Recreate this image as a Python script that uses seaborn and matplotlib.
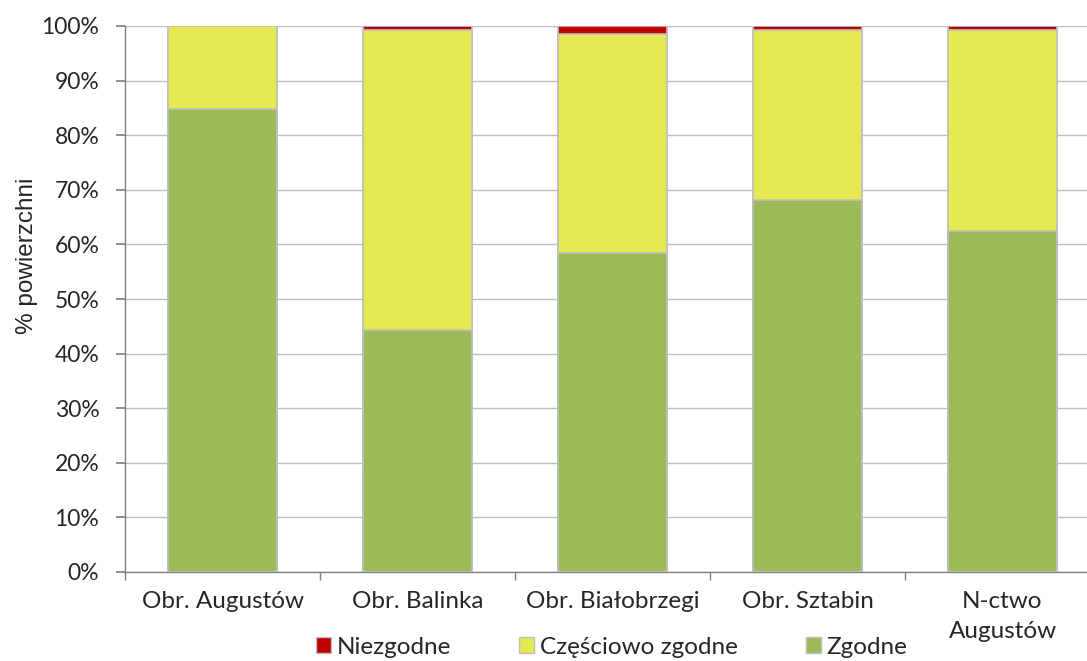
import numpy as np
import pandas as pd
import seaborn as sns
import matplotlib
matplotlib.use("Agg")
import matplotlib.pyplot as plt
from matplotlib.ticker import PercentFormatter, FixedLocator

categories = ["Obr. Augustów", "Obr. Balinka", "Obr. Białobrzegi", "Obr. Sztabin", "N-ctwo\nAugustów"]
zgodne = [84.8, 44.4, 58.4, 68.1, 62.4]
czesciowo = [15.2, 54.9, 40.2, 31.1, 36.9]
niezgodne = [0.0, 0.7, 1.4, 0.8, 0.7]
series = ["Niezgodne", "Częściowo zgodne", "Zgodne"]
colors = {"Niezgodne": "#C00000", "Częściowo zgodne": "#E6E951", "Zgodne": "#9BBB59"}

sns.set_theme(style="white")
plt.rcParams["font.family"] = ["Lato", "DejaVu Sans"]

df = pd.DataFrame({"cat": categories, "Zgodne": zgodne,
                   "Częściowo zgodne": czesciowo, "Niezgodne": niezgodne})
df["cum_green"] = df["Zgodne"]
df["cum_yellow"] = df["Zgodne"] + df["Częściowo zgodne"]
df["cum_red"] = df["cum_yellow"] + df["Niezgodne"]

fig = plt.figure(figsize=(10.87, 6.61), dpi=100)
ax = fig.add_axes([125 / 1087, 1 - 572 / 661, (1087 - 125) / 1087, 546 / 661])

edge = "#BFBFBF"
for col, key in [("cum_red", "Niezgodne"), ("cum_yellow", "Częściowo zgodne"), ("cum_green", "Zgodne")]:
    sns.barplot(data=df, x="cat", y=col, color=colors[key], saturation=1,
                width=0.555, edgecolor=edge, linewidth=1.2, ax=ax, zorder=3)

ax.yaxis.set_major_locator(FixedLocator(np.arange(0, 101, 10)))
ax.yaxis.set_major_formatter(PercentFormatter(decimals=0))
ax.yaxis.grid(True, color="#BFBFBF", lw=1, zorder=0)
ax.set_axisbelow(True)

fs = 17.5
ax.set_xlabel("")
ax.set_ylabel("% powierzchni", fontsize=17.5, family=["Liberation Sans", "DejaVu Sans"])
ax.yaxis.set_label_coords(-0.090, 0.58)
ax.tick_params(axis="y", labelsize=16.5, length=6.5, color="#808080", direction="out", pad=12, left=True)
ax.set_xticks(range(len(categories)))
ax.set_xticklabels(categories, fontsize=fs, linespacing=1.5)
ax.tick_params(axis="x", length=0, pad=14)
ax.set_xticks(np.arange(-0.5, 5, 1), minor=True)
ax.tick_params(axis="x", which="minor", length=6, color="#808080", bottom=True)

ax.set_ylim(0, 100)
ax.set_xlim(-0.5, 4.5 - 13 / 195)

for s in ["top", "right"]:
    ax.spines[s].set_visible(False)
for s in ["left", "bottom"]:
    ax.spines[s].set_color("#808080")
    ax.spines[s].set_linewidth(1)

handles = [plt.Rectangle((0, 0), 1, 1, facecolor=colors[s], edgecolor=edge, lw=1) for s in series]
fig.legend(handles, series, loc="center", bbox_to_anchor=(612 / 1087, 1 - 647 / 661),
           ncol=3, frameon=False, fontsize=fs, handlelength=0.6, handleheight=0.6,
           handletextpad=0.25, columnspacing=2.8, borderpad=0)

fig.savefig("out.png", dpi=100)
